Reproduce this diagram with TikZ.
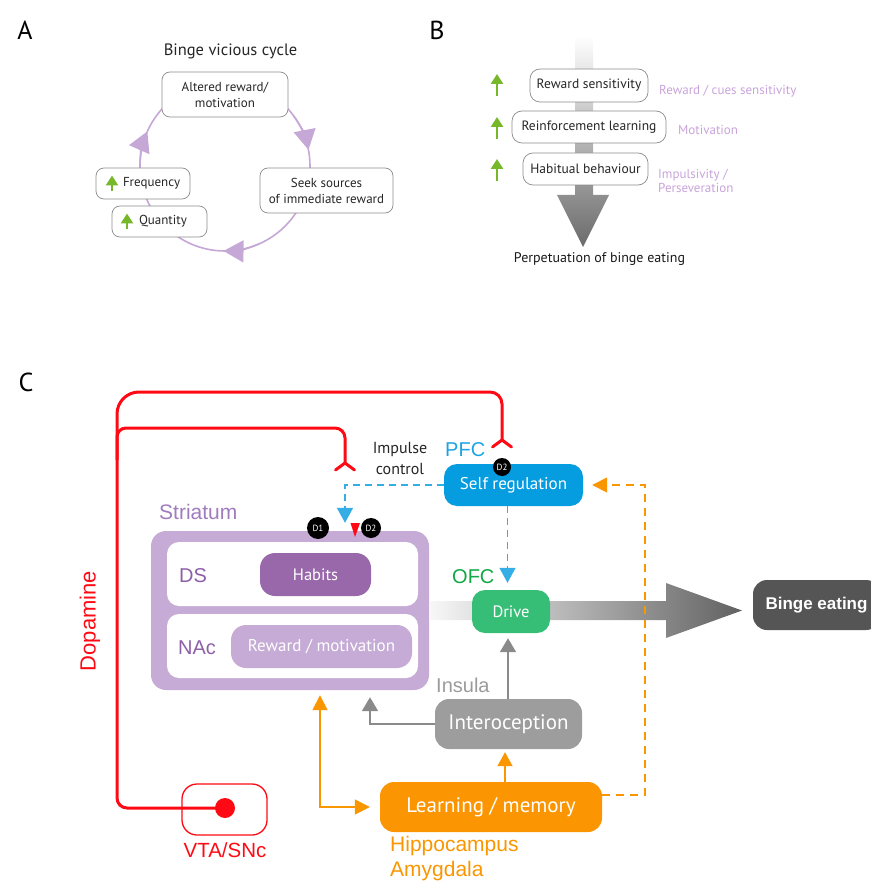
\documentclass[tikz,border=0pt]{standalone}
\usepackage{fontspec}
\setmainfont{PT Sans}
\newfontfamily\arialf{Liberation Sans}
\usetikzlibrary{arrows.meta,calc}
\definecolor{cyc}{HTML}{C5A8D6}
\definecolor{lav}{HTML}{C9A3DB}
\definecolor{upg}{HTML}{76B82A}
\definecolor{boxgray}{HTML}{8C8C8C}
\definecolor{dred}{HTML}{FF0A14}
\definecolor{strlav}{HTML}{C5ABD5}
\definecolor{strtxt}{HTML}{A07CBF}
\definecolor{dstxt}{HTML}{8D5FA8}
\definecolor{habitsc}{HTML}{9968AB}
\definecolor{pfcc}{HTML}{1BA3E3}
\definecolor{selfregc}{HTML}{069DE0}
\definecolor{bdashc}{HTML}{35AEE6}
\definecolor{ofcc}{HTML}{0FA845}
\definecolor{drivec}{HTML}{36BE76}
\definecolor{insulac}{HTML}{9B9B9B}
\definecolor{interoc}{HTML}{9D9D9D}
\definecolor{garrowc}{HTML}{8A8A8A}
\definecolor{orngc}{HTML}{FA9600}
\definecolor{learnc}{HTML}{FC9502}
\definecolor{bingec}{HTML}{555555}
\tikzset{
 abox/.style={draw=boxgray, line width=0.7pt, fill=white, rounded corners=8pt, align=center, inner sep=0pt, text=black!85, font=\fontsize{13}{16}\selectfont},
 bbox/.style={abox, rounded corners=10pt, font=\fontsize{13.5}{16}\selectfont},
 uparr/.style={draw=upg, line width=2.6pt, -{Triangle[width=12pt,length=10pt]}},
 cycarr/.style={draw=cyc, line width=1.6pt, -{Triangle[width=22pt,length=20pt]}},
 lavtxt/.style={text=lav, font=\fontsize{13}{14.5}\selectfont, inner sep=0pt, align=left},
 cbox/.style={rounded corners=13pt, inner sep=0pt, text=white, align=center},
 dcirc/.style={circle, fill=black, text=white, inner sep=0pt, font=\fontsize{9}{9}\selectfont},
 dline/.style={draw=dred, line width=3pt},
 region/.style={font=\arialf\fontsize{20}{24}\selectfont, inner sep=0pt},
 bdash/.style={draw=bdashc, line width=1.6pt, dash pattern=on 7pt off 5pt, -{Triangle[width=16pt,length=15pt]}},
 odash/.style={draw=orngc, line width=1.6pt, dash pattern=on 8pt off 6pt, -{Triangle[width=15pt,length=15pt]}},
 oarr/.style={draw=orngc, line width=1.6pt},
 garr/.style={draw=garrowc, line width=1.8pt, -{Triangle[width=16pt,length=14pt]}},
 panellab/.style={font=\fontsize{26}{26}\selectfont, inner sep=0pt}
}
\begin{document}
\begin{tikzpicture}[x=1pt,y=-1pt]
\useasboundingbox (0,0) rectangle (870,882);
% ---------------- Panel A
\node[panellab] (labA) at (25,30) {A};
\node[font=\fontsize{16.5}{18}\selectfont, text=black!85] (titleA) at (230.5,51) {Binge vicious cycle};
\coordinate (cen) at (225,166);
\draw[cyc, line width=1.6pt] (cen) circle[radius=85];
\draw[cycarr] ($(cen)+(-36:85)$) arc[start angle=-36, end angle=-11, radius=85];
\draw[cycarr] ($(cen)+(66:85)$) arc[start angle=66, end angle=91, radius=85];
\draw[cycarr] ($(cen)+(179:85)$) arc[start angle=179, end angle=204, radius=85];
\node[abox, minimum width=126pt, minimum height=45pt] (alt) at (225,94.5) {Altered reward/\\motivation};
\node[abox, minimum width=133pt, minimum height=45pt] (seek) at (326.5,190.5) {Seek sources\\of immediate reward};
\node[abox, minimum width=94pt, minimum height=31pt] (freq) at (143,183.5) {\makebox[94pt][l]{\hspace*{27pt}Frequency}};
\node[abox, minimum width=95pt, minimum height=31pt] (quant) at (159.5,221.5) {\makebox[95pt][l]{\hspace*{27pt}Quantity}};
\draw[uparr] ([xshift=-31pt,yshift=-8pt]freq.center) -- ++(0,-16);
\draw[uparr] ([xshift=-32.5pt,yshift=-8pt]quant.center) -- ++(0,-16);
% ---------------- Panel B
\node[panellab] (labB) at (437,30) {B};
\shade[top color=white, middle color=black!30, bottom color=black!58] (575,35) -- (593,35) -- (593,195) -- (609,195) -- (583,247) -- (557,195) -- (575,195) -- cycle;
\node[bbox, minimum width=118pt, minimum height=33pt] (rs) at (589,85.5) {Reward sensitivity};
\node[bbox, minimum width=154pt, minimum height=32pt] (rl) at (589,127) {Reinforcement learning};
\node[bbox, minimum width=125pt, minimum height=32pt] (hb) at (585.5,169) {Habitual behaviour};
\draw[uparr] (497,96) -- (497,74);
\draw[uparr] (497,139) -- (497,117);
\draw[uparr] (497,181) -- (497,159);
\node[lavtxt, anchor=west] (l1) at (659,91) {Reward / cues sensitivity};
\node[lavtxt, anchor=west] (l2) at (678,130) {Motivation};
\node[lavtxt, anchor=west] (l3) at (658,181) {Impulsivity /\\Perseveration};
\node[font=\fontsize{14}{16}\selectfont, text=black!90] (perp) at (599.5,259) {Perpetuation of binge eating};
% ---------------- Panel C
\node[panellab] (labC) at (26,382) {C};
% gradient arrow to binge eating
\shade[left color=black!3, right color=black!62] (430,601) -- (666,601) -- (666,583) -- (742,610.5) -- (666,638) -- (666,620) -- (430,620) -- cycle;
% striatum
\node[fill=strlav, rounded corners=15pt, minimum width=278pt, minimum height=159pt, inner sep=0pt] (str) at (290,610.5) {};
\node[fill=white, rounded corners=12pt, minimum width=251pt, minimum height=64pt, inner sep=0pt] (dsbox) at (292.5,574) {};
\node[fill=white, rounded corners=12pt, minimum width=251pt, minimum height=64pt, inner sep=0pt] (nacbox) at (292.5,646) {};
\node[cbox, fill=habitsc, minimum width=111pt, minimum height=43pt, rounded corners=15pt, font=\fontsize{16.5}{18}\selectfont] (habits) at (315.5,574.5) {Habits};
\node[cbox, fill=strlav, minimum width=181pt, minimum height=43pt, rounded corners=15pt, font=\fontsize{17}{19}\selectfont] (rewmot) at (321.5,646.5) {Reward / motivation};
\node[region, text=dstxt, anchor=west] (dslab) at (179,576) {DS};
\node[region, text=dstxt, anchor=west] (naclab) at (178,648) {NAc};
\node[region, text=strtxt, anchor=west, font=\arialf\fontsize{21}{24}\selectfont] (strlab) at (159,512) {Striatum};
\node[dcirc, minimum size=22pt] (d1) at (318,528) {D1};
\node[dcirc, minimum size=20pt] (d2s) at (371,528) {D2};
\fill[dred] (350.5,523) -- (360,523) -- (355,537) -- cycle;
% PFC
\node[cbox, fill=selfregc, minimum width=139pt, minimum height=42pt, font=\fontsize{17}{19}\selectfont] (selfreg) at (513.5,485) {Self regulation};
\node[dcirc, minimum size=18pt] (d2p) at (502,467) {D2};
\node[region, text=pfcc, anchor=west] (pfclab) at (445,450) {PFC};
\node[font=\fontsize{16}{21}\selectfont, text=black!85, align=center, inner sep=0pt] (impulse) at (400,458.5) {Impulse\\control};
% OFC
\node[region, text=ofcc, anchor=west] (ofclab) at (452,577) {OFC};
\node[cbox, fill=drivec, minimum width=78pt, minimum height=43pt, font=\fontsize{16.5}{18}\selectfont] (drive) at (511,611.5) {Drive};
\node[cbox, fill=bingec, minimum width=127pt, minimum height=50pt, rounded corners=14pt, font=\arialf\bfseries\fontsize{17}{20}\selectfont] (binge) at (816.5,605) {Binge eating};
% Insula
\node[region, text=insulac, anchor=west] (inslab) at (436,685) {Insula};
\node[cbox, fill=interoc, minimum width=147pt, minimum height=50pt, rounded corners=14pt, font=\fontsize{21}{23}\selectfont] (intero) at (508.5,724) {Interoception};
% Learning
\node[cbox, fill=learnc, minimum width=222pt, minimum height=50pt, rounded corners=14pt, font=\fontsize{21}{23}\selectfont] (learn) at (491,807) {Learning / memory};
\node[region, text=orngc, anchor=north west, align=left, font=\arialf\fontsize{21}{25}\selectfont] (hipp) at (390,836) {Hippocampus\\Amygdala};
% VTA
\node[draw=dred, line width=1.3pt, rounded corners=15pt, minimum width=85pt, minimum height=51pt, inner sep=0pt] (vta) at (224.5,809.5) {};
\node[circle, fill=dred, minimum size=20pt, inner sep=0pt] (vtadot) at (225,808) {};
\node[region, text=dred, font=\arialf\fontsize{20.5}{24}\selectfont] (vtalab) at (225,850) {VTA/SNc};
\node[region, text=dred, rotate=90, font=\arialf\fontsize{22}{24}\selectfont] (dopa) at (90,621) {Dopamine};
% red dopamine projections
\coordinate (fk1) at (502,440);
\coordinate (fk2) at (345,463);
\coordinate (br) at (117,460);
\draw[dline] (vtadot.center) [rounded corners=10pt] -- (117,808) [rounded corners=22pt] -- (117,392) [rounded corners=12pt] -- (502,392) -- (fk1);
\draw[dline] (br) [rounded corners=9pt] -- (117,428) [rounded corners=10pt] -- (345,428) -- (fk2);
\draw[dline, line cap=round] (fk1) -- ++(-9.5,7);
\draw[dline, line cap=round] (fk1) -- ++(9.5,7);
\draw[dline, line cap=round] (fk2) -- ++(-9.5,7);
\draw[dline, line cap=round] (fk2) -- ++(9.5,7);
% blue dashed
\draw[bdash, shorten >=8pt] (selfreg.west) -| ([xshift=55pt]str.north);
\draw[bdash, shorten >=7pt] ([xshift=-6pt]selfreg.south) -- ([xshift=-3.5pt]drive.north);
% grey arrows
\draw[garr, shorten >=5pt] ([xshift=-0.5pt]intero.north) -- ([xshift=-3pt]drive.south);
\draw[garr, shorten >=7pt] (intero.west) -| ([xshift=80pt]str.south);
% orange arrows
\draw[oarr, -{Triangle[width=15pt,length=14pt]}, shorten >=3pt] ([xshift=14pt]learn.north) -- ([xshift=-3.5pt]intero.south);
\draw[oarr, {Triangle[width=15pt,length=15pt]}-{Triangle[width=15pt,length=15pt]}, shorten <=5pt, shorten >=10pt] ([xshift=30pt]str.south) |- (learn.west);
\coordinate (orx) at (645,485);
\draw[odash, shorten >=9pt] ([yshift=12pt]learn.east) -| (orx) -- (selfreg.east);
\end{tikzpicture}
\end{document}
